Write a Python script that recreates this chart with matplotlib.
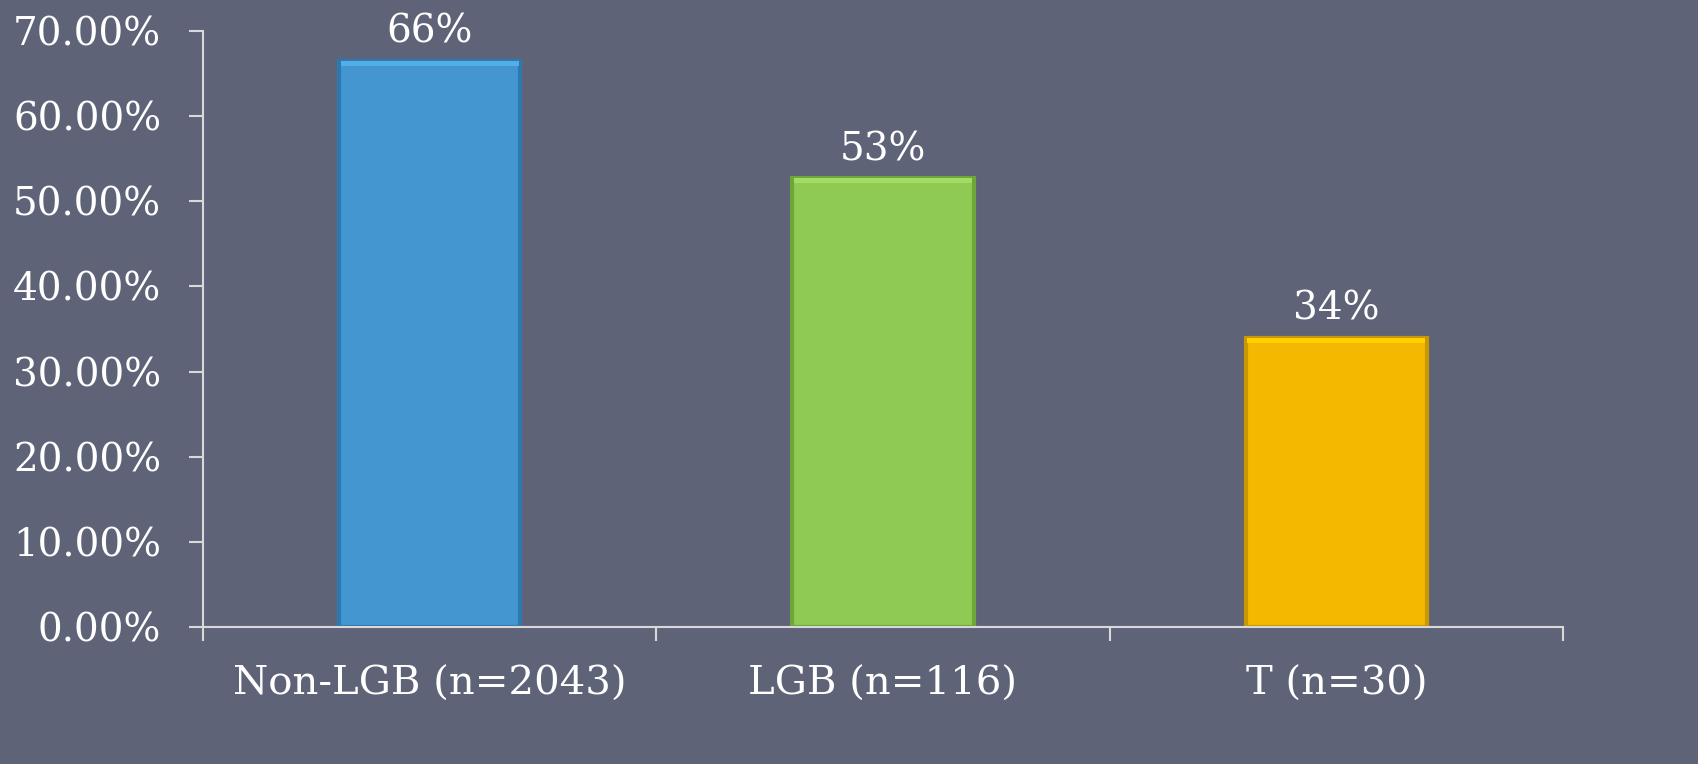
import matplotlib
matplotlib.use("Agg")
import matplotlib.pyplot as plt
import numpy as np

categories = ["Non-LGB (n=2043)", "LGB (n=116)", "T (n=30)"]
values = [0.665, 0.527, 0.34]
value_labels = ["66%", "53%", "34%"]
yticks = [0.0, 0.1, 0.2, 0.3, 0.4, 0.5, 0.6, 0.7]
ytick_labels = ["0.00%", "10.00%", "20.00%", "30.00%", "40.00%", "50.00%", "60.00%", "70.00%"]

colors = ["#4396cf", "#8fca52", "#f5b800"]
edge_dark = ["#2f78ae", "#6ea63a", "#c99700"]
top_light = ["#52aee6", "#a3dc62", "#ffd000"]

bg = "#5e6378"
fig = plt.figure(figsize=(16.98, 7.64), dpi=100, facecolor=bg)
ax = fig.add_axes([203/1698, 1-627/764, (1563-203)/1698, (627-31)/764])
ax.set_facecolor(bg)

x = np.arange(len(categories))
w = 0.4
bars = ax.bar(x, values, width=w, color=colors, edgecolor=edge_dark, linewidth=3, zorder=3)
# bevel highlight on top
for xi, v, c in zip(x, values, top_light):
    ax.bar(xi, 0.006, bottom=v - 0.006, width=w - 0.008, color=c, linewidth=0, zorder=4)

font = "DejaVu Serif"
fs = 28
for xi, v, lab in zip(x, values, value_labels):
    ax.text(xi, v + 0.012, lab, ha="center", va="bottom", color="white", fontsize=fs, family=font)

ax.set_xlim(-0.5, 2.5)
ax.set_ylim(0, 0.7)
ax.set_yticks(yticks)
ax.set_yticklabels(ytick_labels, family=font, fontsize=fs, color="white")
ax.set_xticks(x)
ax.set_xticklabels(categories, family=font, fontsize=fs + 1, color="white")
ax.set_xticks([-0.5, 0.5, 1.5, 2.5], minor=True)
ax.tick_params(axis="x", which="major", length=0, pad=28)
ax.tick_params(axis="x", which="minor", length=10, width=1.5, color="#d9d9d9", direction="out")
ax.tick_params(axis="y", length=10, width=1.5, color="#d9d9d9", direction="out", pad=20)

for s in ["top", "right"]:
    ax.spines[s].set_visible(False)
for s in ["left", "bottom"]:
    ax.spines[s].set_color("#d9d9d9")
    ax.spines[s].set_linewidth(1.5)
ax.spines["bottom"].set_zorder(5)

fig.savefig("out.png", dpi=100, facecolor=bg)
